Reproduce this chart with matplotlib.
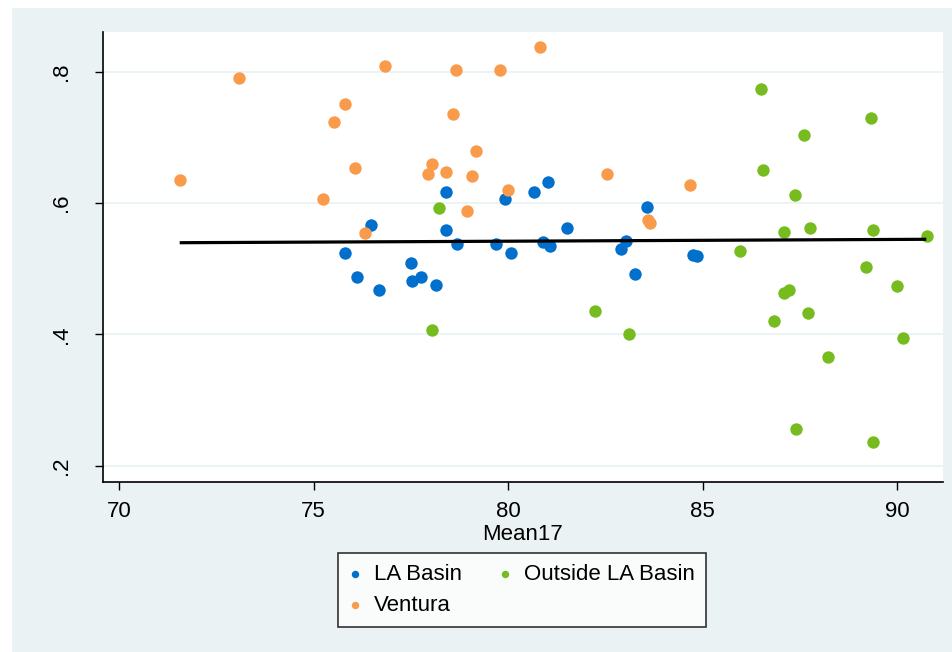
import numpy as np
import matplotlib
matplotlib.use("Agg")
import matplotlib.pyplot as plt
from matplotlib.patches import Rectangle

plt.rcParams['font.family'] = ['Liberation Sans', 'DejaVu Sans']

# Mean17 vs share, by region
la_x = [76.47, 78.41, 79.92, 80.65, 81.01, 83.56, 78.41, 81.52, 78.69, 79.69,
        80.07, 80.90, 81.07, 83.03, 82.90, 83.26, 84.76, 84.84, 77.49, 77.54,
        77.75, 78.15, 75.81, 76.11, 76.68]
la_y = [0.566, 0.617, 0.606, 0.617, 0.632, 0.594, 0.559, 0.562, 0.538, 0.538,
        0.524, 0.541, 0.535, 0.542, 0.530, 0.492, 0.521, 0.520, 0.509, 0.482,
        0.488, 0.476, 0.524, 0.488, 0.468]

out_x = [78.21, 78.05, 82.23, 83.10, 86.50, 89.32, 87.59, 86.55, 87.36, 87.08,
         87.75, 89.38, 90.75, 85.96, 89.18, 89.99, 87.09, 87.22, 87.69, 86.83,
         90.14, 88.21, 87.39, 89.38]
out_y = [0.593, 0.407, 0.436, 0.400, 0.773, 0.729, 0.704, 0.650, 0.612, 0.556,
         0.562, 0.559, 0.550, 0.527, 0.503, 0.474, 0.463, 0.468, 0.433, 0.421,
         0.394, 0.365, 0.256, 0.236]

ven_x = [76.83, 73.08, 75.81, 75.53, 76.06, 71.57, 75.24, 76.32, 80.81, 78.67,
         79.78, 78.58, 79.18, 78.03, 77.95, 78.41, 79.07, 82.54, 84.68, 79.99,
         78.94, 83.60, 83.64]
ven_y = [0.809, 0.791, 0.751, 0.723, 0.653, 0.635, 0.606, 0.554, 0.838, 0.803,
         0.803, 0.735, 0.679, 0.659, 0.644, 0.647, 0.641, 0.644, 0.628, 0.620,
         0.588, 0.574, 0.570]

# fitted line (endpoints of the reported fit)
fit_x = [71.56, 90.74]
fit_y = [0.5397, 0.5449]

xticks = [70, 75, 80, 85, 90]
yticks = [0.2, 0.4, 0.6, 0.8]
ylabels = ['.2', '.4', '.6', '.8']

bg = '#EAF2F3'
c_la = '#0070CC'
c_out = '#77BC1F'
c_ven = '#F99B4B'

fig = plt.figure(figsize=(9.52, 6.52), dpi=100, facecolor='white')
fig.patches.append(Rectangle((12 / 952, 0), 940 / 952, 644 / 652,
                             transform=fig.transFigure, facecolor=bg,
                             edgecolor='none', zorder=-10))

ax = fig.add_axes([103 / 952, 1 - 482 / 652, 840 / 952, 450 / 652])
ax.set_facecolor('white')

ax.scatter(la_x, la_y, s=80, color=c_la, linewidths=0, label='LA Basin', zorder=3)
ax.scatter(out_x, out_y, s=80, color=c_out, linewidths=0, label='Outside LA Basin', zorder=3)
ax.scatter(ven_x, ven_y, s=80, color=c_ven, linewidths=0, label='Ventura', zorder=3)
ax.plot(fit_x, fit_y, color='black', lw=2.3, solid_capstyle='butt', zorder=4)

ax.set_xlim(69.59, 91.17)
ax.set_ylim(0.1755, 0.8604)
ax.set_xticks(xticks)
ax.set_yticks(yticks)
ax.set_yticklabels(ylabels, rotation=90, va='center')
ax.tick_params(axis='both', labelsize=16, length=6, width=1, color='black', pad=8)
ax.tick_params(axis='y', pad=16)
for y in yticks:
    ax.axhline(y, color=bg, lw=1.3, zorder=1)

for side in ['top', 'right']:
    ax.spines[side].set_visible(False)
for side in ['left', 'bottom']:
    ax.spines[side].set_linewidth(1.2)

ax.set_xlabel('Mean17', fontsize=16, labelpad=1)

handles, labels = ax.get_legend_handles_labels()
order = [0, 2, 1]
leg = fig.legend([handles[i] for i in order], [labels[i] for i in order],
                 ncol=2, loc='center', bbox_to_anchor=(522 / 952, 1 - 590 / 652),
                 fontsize=16, frameon=True, fancybox=False, markerscale=0.6,
                 handletextpad=0.6, columnspacing=1.7, labelspacing=0.45,
                 borderpad=0.5, handlelength=0.5)
leg.get_frame().set_edgecolor('black')
leg.get_frame().set_linewidth(1.2)

fig.savefig('out.png', dpi=100, facecolor=fig.get_facecolor())
